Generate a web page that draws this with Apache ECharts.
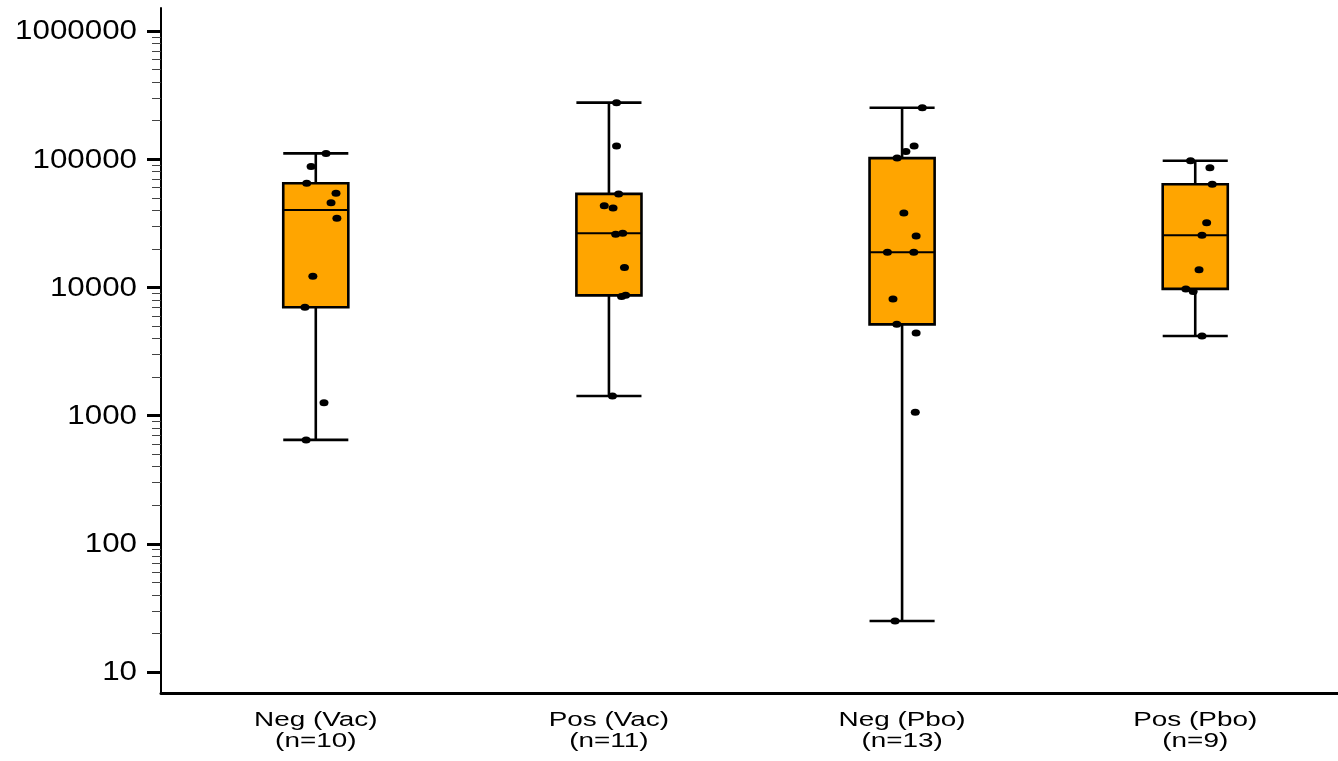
<!DOCTYPE html>
<html>
<head>
<meta charset="utf-8">
<script src="https://cdn.jsdelivr.net/npm/echarts@6/dist/echarts.min.js"></script>
<style>
  html, body { margin: 0; padding: 0; background: #fff; }
  #chart { width: 1338px; height: 761px; }
</style>
</head>
<body>
<div id="chart"></div>
<script>
// Groups along the x axis
const categories = ['Neg (Vac)', 'Pos (Vac)', 'Neg (Pbo)', 'Pos (Pbo)'];

// Box summaries per group: whisker low, lower hinge, median, upper hinge, whisker high
const boxMin    = [646,    1422,   25,     4180];
const boxQ1     = [7000,   8670,   5150,   9730];
const boxMedian = [40200,  26400,  18800,  25500];
const boxQ3     = [64900,  53600,  102000, 63700];
const boxMax    = [111000, 276000, 252000, 97300];

// Individual observations per group, with their horizontal jitter (in group units)
const negVacValues = [111000, 87500, 64900, 54200, 45800, 34600, 12200, 7000, 1262, 646];
const negVacJitter = [0.035, -0.016, -0.031, 0.069, 0.052, 0.072, -0.010, -0.037, 0.028, -0.033];

const posVacValues = [276000, 127000, 53600, 43300, 41600, 26400, 26000, 14300, 8500, 8700, 1422];
const posVacJitter = [0.026, 0.026, 0.033, -0.016, 0.014, 0.047, 0.023, 0.053, 0.043, 0.057, 0.012];

const negPboValues = [252000, 126800, 115000, 102000, 38000, 25200, 18800, 18800, 8130, 5150, 4410, 1061, 25];
const negPboJitter = [0.069, 0.041, 0.013, -0.017, 0.006, 0.048, -0.050, 0.040, -0.031, -0.018, 0.048, 0.045, -0.024];

const posPboValues = [97300, 85900, 63700, 32000, 25500, 13700, 9730, 9270, 4180];
const posPboJitter = [-0.016, 0.050, 0.058, 0.039, 0.023, 0.013, -0.032, -0.007, 0.023];

// Y axis tick labels (log scale)
const yTickValues = [10, 100, 1000, 10000, 100000, 1000000];

const groupValues = [negVacValues, posVacValues, negPboValues, posPboValues];
const groupJitter = [negVacJitter, posVacJitter, negPboJitter, posPboJitter];

// Minor ticks at 2..9 within each labelled decade below the top one
const yMinorTicks = [];
yTickValues.slice(0, -1).forEach(function (d) {
  for (let k = 2; k <= 9; k++) yMinorTicks.push(d * k);
});

const X_MIN = 0.472;
const X_MAX = 4.487;
const Y_MIN = 6.858;
const Y_MAX = 1511000;
const BOX_HALF = 0.111;

const boxData = categories.map(function (c, i) {
  return [i + 1, boxMin[i], boxQ1[i], boxMedian[i], boxQ3[i], boxMax[i]];
});

const pointData = [];
groupValues.forEach(function (vals, i) {
  vals.forEach(function (v, j) {
    pointData.push([i + 1 + groupJitter[i][j], v]);
  });
});

// Category captions sit under the axis at each group position (wide type)
const xLabelData = categories.map(function (c, i) { return [i + 1, Y_MIN]; });
// Decade captions sit beside the y axis at each tick value (wide type)
const yLabelData = yTickValues.map(function (v) { return [X_MIN, v]; });

const chart = echarts.init(document.getElementById('chart'), null, { renderer: 'canvas' });

chart.setOption({
  animation: false,
  backgroundColor: '#ffffff',
  grid: { left: 161, top: 8, right: 0, bottom: 68, containLabel: false },
  xAxis: {
    type: 'value',
    min: X_MIN,
    max: X_MAX,
    axisLine: { show: true, lineStyle: { color: '#000', width: 3 } },
    axisTick: { show: false },
    splitLine: { show: false },
    axisLabel: { show: false }
  },
  yAxis: [
    {
      type: 'log',
      logBase: 10,
      min: Y_MIN,
      max: Y_MAX,
      position: 'left',
      axisLine: { show: true, lineStyle: { color: '#000', width: 2 } },
      axisTick: {
        show: true,
        customValues: yTickValues,
        length: 14,
        lineStyle: { color: '#000', width: 3 }
      },
      minorTick: { show: false },
      splitLine: { show: false },
      axisLabel: { show: false }
    },
    {
      type: 'log',
      logBase: 10,
      min: Y_MIN,
      max: Y_MAX,
      position: 'left',
      axisLine: { show: false },
      axisTick: {
        show: true,
        customValues: yMinorTicks,
        length: 9,
        lineStyle: { color: '#444', width: 1 }
      },
      splitLine: { show: false },
      axisLabel: { show: false }
    }
  ],
  series: [
    {
      type: 'custom',
      yAxisIndex: 0,
      data: boxData,
      encode: { x: 0, y: [1, 2, 3, 4, 5] },
      z: 2,
      renderItem: function (params, api) {
        const x = api.value(0);
        const pMin = api.coord([x, api.value(1)]);
        const pQ1 = api.coord([x, api.value(2)]);
        const pMed = api.coord([x, api.value(3)]);
        const pQ3 = api.coord([x, api.value(4)]);
        const pMax = api.coord([x, api.value(5)]);
        const left = api.coord([x - BOX_HALF, api.value(3)])[0];
        const right = api.coord([x + BOX_HALF, api.value(3)])[0];
        const cx = pMed[0];
        const stroke = { stroke: '#000', lineWidth: 2.6 };
        return {
          type: 'group',
          children: [
            { type: 'line', shape: { x1: cx, y1: pMin[1], x2: cx, y2: pQ1[1] }, style: stroke },
            { type: 'line', shape: { x1: cx, y1: pQ3[1], x2: cx, y2: pMax[1] }, style: stroke },
            { type: 'line', shape: { x1: left, y1: pMin[1], x2: right, y2: pMin[1] }, style: stroke },
            { type: 'line', shape: { x1: left, y1: pMax[1], x2: right, y2: pMax[1] }, style: stroke },
            {
              type: 'rect',
              shape: { x: left, y: pQ3[1], width: right - left, height: pQ1[1] - pQ3[1] },
              style: { fill: '#FFA500', stroke: '#000', lineWidth: 2.6 }
            },
            { type: 'line', shape: { x1: left, y1: pMed[1], x2: right, y2: pMed[1] }, style: { stroke: '#000', lineWidth: 2 } }
          ]
        };
      }
    },
    {
      type: 'scatter',
      yAxisIndex: 0,
      data: pointData,
      symbol: 'circle',
      symbolSize: [9, 7],
      itemStyle: { color: '#000', opacity: 1 },
      z: 3
    },
    {
      type: 'custom',
      yAxisIndex: 0,
      data: xLabelData,
      clip: false,
      silent: true,
      z: 4,
      renderItem: function (params, api) {
        const i = params.dataIndex;
        const p = api.coord([api.value(0), api.value(1)]);
        return {
          type: 'text',
          x: p[0],
          y: p[1] + 17.5,
          scaleX: 1.36,
          style: {
            text: categories[i] + '\n(n=' + groupValues[i].length + ')',
            fill: '#000',
            font: "20.5px 'Liberation Sans', Arial, sans-serif",
            lineHeight: 20.5,
            align: 'center',
            verticalAlign: 'top'
          }
        };
      }
    },
    {
      type: 'custom',
      yAxisIndex: 0,
      data: yLabelData,
      clip: false,
      silent: true,
      z: 4,
      renderItem: function (params, api) {
        const p = api.coord([api.value(0), api.value(1)]);
        return {
          type: 'text',
          x: p[0] - 24,
          y: p[1] + 1,
          scaleX: 1.16,
          style: {
            text: String(yTickValues[params.dataIndex]),
            fill: '#000',
            font: "27px 'Liberation Sans', Arial, sans-serif",
            align: 'right',
            verticalAlign: 'middle'
          }
        };
      }
    }
  ]
});
</script>
</body>
</html>
